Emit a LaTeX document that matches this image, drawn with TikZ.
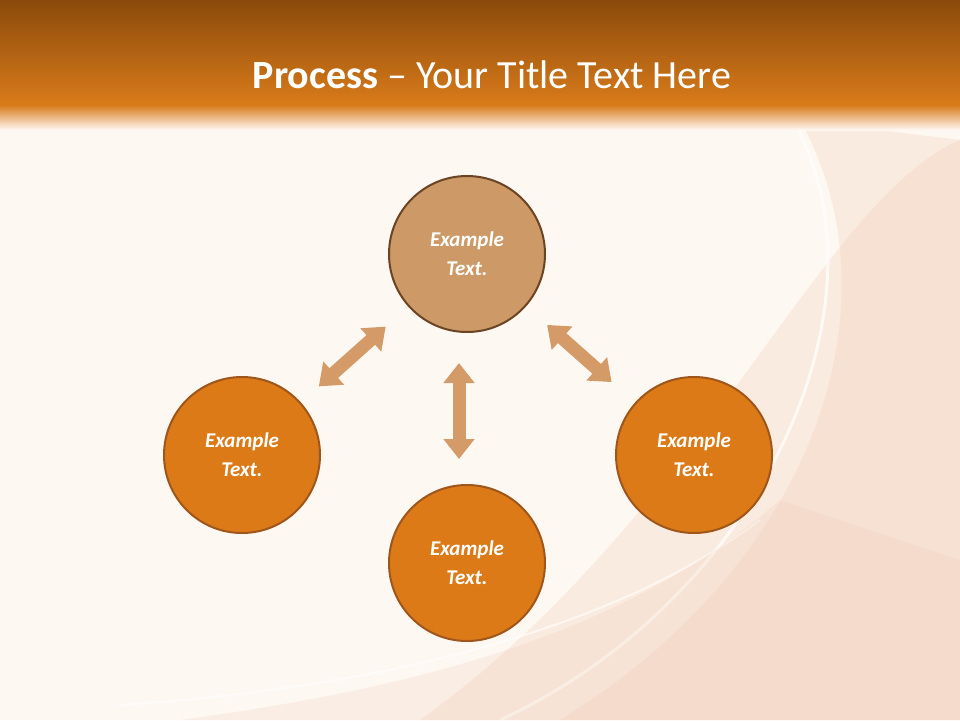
\documentclass[tikz,border=0pt]{standalone}
\usepackage{fontspec}
\setmainfont{Carlito}
\usetikzlibrary{arrows.meta}
\definecolor{cream}{HTML}{FEF8F3}
\definecolor{barTop}{HTML}{8A4A0C}
\definecolor{barBot}{HTML}{D97B1A}
\definecolor{topFill}{HTML}{CD9966}
\definecolor{topLine}{HTML}{6B4423}
\definecolor{orFill}{HTML}{DC7A18}
\definecolor{orLine}{HTML}{A0561A}
\definecolor{arr}{HTML}{D49A68}
\definecolor{peach}{HTML}{F1CDB5}
\tikzset{
  circ/.style={circle,minimum size=156pt,line width=2pt,text=white,font=\bfseries\itshape\fontsize{21}{29}\selectfont,align=center},
  topc/.style={circ,fill=topFill,draw=topLine},
  orc/.style={circ,fill=orFill,draw=orLine},
  dbl/.style={draw=arr,line width=13pt,{Triangle[width=30pt,length=20pt]}-{Triangle[width=30pt,length=20pt]}}
}
\begin{document}
\begin{tikzpicture}[x=1pt,y=-1pt]
\useasboundingbox (0,0) rectangle (960,720);
\fill[cream] (0,0) rectangle (960,720);
% swirl background
\fill[peach,opacity=0.3] (960,140) .. controls (820,200) and (700,520) .. (420,720) -- (960,720) -- cycle;
\fill[peach,opacity=0.3] (800,120) .. controls (900,300) and (820,560) .. (560,720) -- (960,720) -- (960,140) -- cycle;
\draw[white,line width=3pt,opacity=0.7] (790,115) .. controls (900,300) and (760,600) .. (500,720);
\draw[white,line width=2pt,opacity=0.6] (120,705) .. controls (350,690) and (600,640) .. (760,520);
\fill[peach,opacity=0.25] (180,720) .. controls (400,690) and (620,640) .. (780,500) -- (960,560) -- (960,720) -- cycle;
% title bar
\shade[top color=barTop,bottom color=barBot] (0,0) rectangle (960,105);
\shade[top color=barBot,bottom color=cream] (0,105) rectangle (960,130);
\node[text=white,font=\fontsize{40}{46}\selectfont] (title) at (492,75) {\textbf{Process} – Your Title Text Here};
% circles
\node[topc] (top) at (467,254) {Example\\Text.};
\node[orc] (left) at (242,455) {Example\\Text.};
\node[orc] (bottom) at (467,563) {Example\\Text.};
\node[orc] (right) at (694,455) {Example\\Text.};
% arrows
\draw[dbl,shorten <=30pt,shorten >=24pt] (top) -- (left);
\draw[dbl,shorten <=28pt,shorten >=31pt] (top) -- (right);
\draw[dbl,shorten <=30pt,shorten >=25pt] ([xshift=-8pt]top.south) -- ([xshift=-8pt]bottom.north);
\end{tikzpicture}
\end{document}
